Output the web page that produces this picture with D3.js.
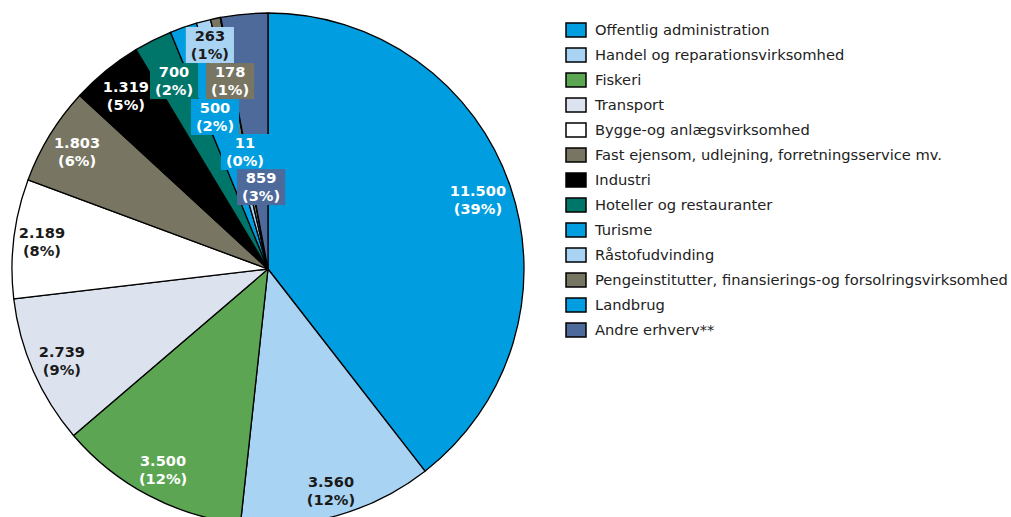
<!DOCTYPE html>
<html>
<head>
<meta charset="utf-8">
<script src="https://cdn.jsdelivr.net/npm/d3@7"></script>
<style>
  html, body { margin: 0; padding: 0; background: #fff; }
  svg { display: block; }
  text { font-family: "DejaVu Sans", Verdana, sans-serif; }
</style>
</head>
<body>
<svg id="chart" width="1011" height="517"></svg>
<script>
// ---- data ----
const categories = [
  "Offentlig administration",
  "Handel og reparationsvirksomhed",
  "Fiskeri",
  "Transport",
  "Bygge-og anlægsvirksomhed",
  "Fast ejensom, udlejning, forretningsservice mv.",
  "Industri",
  "Hoteller og restauranter",
  "Turisme",
  "Råstofudvinding",
  "Pengeinstitutter, finansierings-og forsolringsvirksomhed",
  "Landbrug",
  "Andre erhverv**"
];
const values = [11500, 3560, 3500, 2739, 2189, 1803, 1319, 700, 500, 263, 178, 11, 859];
const valueLabels = ["11.500", "3.560", "3.500", "2.739", "2.189", "1.803", "1.319", "700", "500", "263", "178", "11", "859"];
const percentLabels = ["(39%)", "(12%)", "(12%)", "(9%)", "(8%)", "(6%)", "(5%)", "(2%)", "(2%)", "(1%)", "(1%)", "(0%)", "(3%)"];

// ---- styling / layout ----
const colors = ["#009EE0", "#A9D3F3", "#5BA553", "#DDE3EE", "#FFFFFF", "#787663",
                "#000000", "#00756A", "#009EE0", "#A9D3F3", "#787663", "#009EE0", "#4E6A9A"];
const darkText = [false, true, false, true, true, false, false, false, false, true, false, false, false];
// label anchor relative to pie centre, as fraction of radius
const labelAt = [[0.820, -0.270], [0.246, 0.867], [-0.410, 0.785], [-0.805, 0.359],
                 [-0.883, -0.105], [-0.746, -0.457], [-0.555, -0.676], [-0.367, -0.734],
                 [-0.207, -0.594], [-0.227, -0.875], [-0.148, -0.734], [-0.090, -0.457],
                 [-0.027, -0.320]];

const svg = d3.select("#chart");
const cx = 268, cy = 269, R = 256;
const total = d3.sum(values);

const pie = d3.pie().sort(null).value(d => d)(values);
const arc = d3.arc().innerRadius(0).outerRadius(R);

const g = svg.append("g").attr("transform", `translate(${cx},${cy})`);
g.selectAll("path.slice").data(pie).join("path")
  .attr("class", "slice")
  .attr("d", arc)
  .attr("fill", (d, i) => colors[i])
  .attr("stroke", "#000")
  .attr("stroke-width", 1.3)
  .attr("stroke-linejoin", "round");

// labels
const lx = d3.scaleLinear().domain([-1, 1]).range([-R, R]);
const lineH = 17.5;
const labels = g.selectAll("g.lbl").data(pie).join("g").attr("class", "lbl")
  .attr("transform", (d, i) => `translate(${lx(labelAt[i][0])},${lx(labelAt[i][1])})`);

labels.each(function(d, i) {
  const sel = d3.select(this);
  const boxed = d.value / total < 0.04;
  const rect = boxed ? sel.append("rect").attr("fill", colors[i]) : null;
  const t = sel.append("text")
    .attr("text-anchor", "middle")
    .attr("font-size", "14.6px")
    .attr("font-weight", "bold")
    .attr("fill", darkText[i] ? "#1a1a1a" : "#ffffff");
  t.append("tspan").attr("x", 0).attr("y", -lineH / 2).attr("dy", "0.35em").text(valueLabels[i]);
  t.append("tspan").attr("x", 0).attr("y", lineH / 2).attr("dy", "0.35em").text(percentLabels[i]);
  if (rect) {
    const bb = t.node().getBBox();
    const w = Math.max(bb.width + 10, 46);
    const h = 36;
    rect.attr("x", -w / 2).attr("y", -h / 2).attr("width", w).attr("height", h);
  }
});

// legend
const legendY = d3.scalePoint().domain(categories).range([30, 330]);
const legend = svg.append("g");
const items = legend.selectAll("g.item").data(categories).join("g").attr("class", "item")
  .attr("transform", d => `translate(566,${legendY(d)})`);
items.append("rect")
  .attr("x", 0).attr("y", -7).attr("width", 20).attr("height", 14)
  .attr("fill", (d, i) => colors[i])
  .attr("stroke", "#000").attr("stroke-width", 1.5);
items.append("text")
  .attr("x", 29).attr("y", 0).attr("dy", "0.35em")
  .attr("font-size", "14.7px")
  .attr("fill", "#222")
  .text(d => d);
</script>
</body>
</html>
